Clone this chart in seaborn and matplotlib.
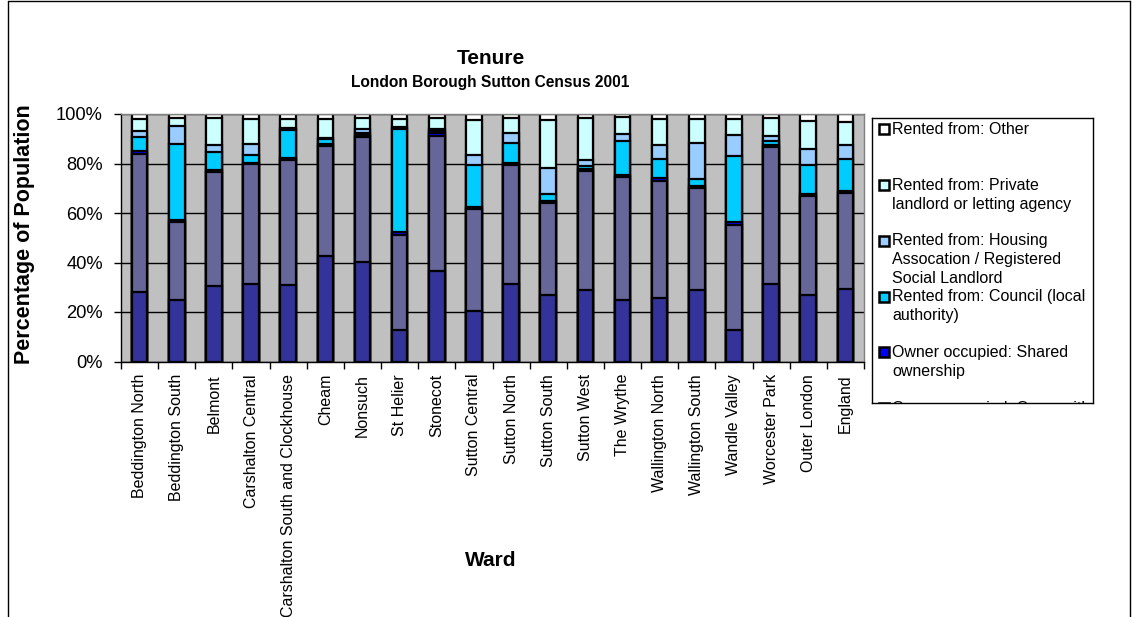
import numpy as np
import pandas as pd
import matplotlib
matplotlib.use("Agg")
import matplotlib.pyplot as plt
from matplotlib.patches import Rectangle
from matplotlib.lines import Line2D
import seaborn as sns

wards = [
    "Beddington North", "Beddington South", "Belmont", "Carshalton Central",
    "Carshalton South and Clockhouse", "Cheam", "Nonsuch", "St Helier",
    "Stonecot", "Sutton Central", "Sutton North", "Sutton South",
    "Sutton West", "The Wrythe", "Wallington North", "Wallington South",
    "Wandle Valley", "Worcester Park", "Outer London", "England",
]

# Tenure shares (% of households) per ward
owns_outright = [27.9, 24.7, 30.7, 31.4, 31.0, 42.6, 40.2, 12.9, 36.7, 20.6,
                 31.5, 27.0, 29.0, 24.8, 25.6, 28.8, 12.8, 31.5, 27.0, 29.2]
owns_mortgage = [56.1, 31.5, 45.8, 48.2, 50.3, 44.6, 50.4, 38.3, 54.5, 41.0,
                 48.0, 37.2, 48.1, 49.6, 47.4, 41.3, 42.5, 55.0, 40.0, 38.9]
shared_ownership = [0.9, 1.0, 1.0, 0.8, 1.0, 0.6, 0.8, 1.0, 1.0, 0.8,
                    0.8, 0.6, 0.8, 0.8, 1.0, 0.8, 1.2, 0.8, 0.8, 0.8]
council = [5.9, 30.8, 7.1, 3.2, 11.2, 2.2, 1.0, 41.7, 1.0, 16.8,
           8.1, 3.0, 1.0, 14.0, 7.9, 2.8, 26.4, 1.9, 11.7, 12.9]
housing_assoc = [2.5, 7.0, 3.0, 4.4, 0.8, 0.5, 1.5, 0.8, 0.8, 4.4,
                 3.9, 10.4, 2.6, 2.8, 5.4, 14.6, 8.5, 1.8, 6.5, 5.8]
private_rented = [4.8, 3.4, 10.8, 10.1, 3.7, 7.6, 4.5, 3.3, 4.4, 14.1,
                  6.1, 19.4, 16.9, 6.7, 10.8, 9.8, 6.7, 7.4, 11.3, 9.0]
other_rented = [1.9, 1.6, 1.6, 1.9, 2.0, 1.9, 1.6, 2.0, 1.6, 2.3,
                1.6, 2.4, 1.6, 1.3, 1.9, 1.9, 1.9, 1.6, 2.7, 3.4]

series_names = [
    "Owner occupied: Owns outright",
    "Owner occupied: Owns with a mortgage or loan",
    "Owner occupied: Shared ownership",
    "Rented from: Council (local authority)",
    "Rented from: Housing Assocation / Registered Social Landlord",
    "Rented from: Private landlord or letting agency",
    "Rented from: Other",
]
series_values = [owns_outright, owns_mortgage, shared_ownership, council,
                 housing_assoc, private_rented, other_rented]
series_colors = ["#333399", "#666699", "#0000FF", "#00CCFF",
                 "#99CCFF", "#CCFFFF", "#FFFFFF"]

sns.set_theme(style="white")
plt.rcParams["font.family"] = ["Liberation Sans", "DejaVu Sans"]
plt.rcParams["text.color"] = "black"
plt.rcParams["axes.labelcolor"] = "black"
plt.rcParams["xtick.color"] = "black"
plt.rcParams["ytick.color"] = "black"

W, H = 1132, 617
fig = plt.figure(figsize=(W / 100, H / 100), dpi=100)
fig.patch.set_facecolor("white")


def fx(px):
    return px / W


def fy(py):
    return 1 - py / H


ax = fig.add_axes([fx(121), fy(361.5), fx(864 - 121), (361.5 - 114) / H])
ax.set_facecolor("#C0C0C0")

# 100% stacked: normalise each ward, then draw cumulative bars from the top layer down
df = pd.DataFrame(dict(zip(series_names, series_values)), index=wards)
df = df.div(df.sum(axis=1), axis=0) * 100
cum = df.cumsum(axis=1)

for name, color in reversed(list(zip(series_names, series_colors))):
    layer = pd.DataFrame({"ward": wards, "value": cum[name].values})
    sns.barplot(data=layer, x="ward", y="value", order=wards, color=color,
                saturation=1, width=0.42, edgecolor="black", linewidth=1.6,
                errorbar=None, ax=ax)

ax.set_xlim(-0.5, len(wards) - 0.5)
ax.set_ylim(0, 100)
ax.set_axisbelow(True)
ax.yaxis.grid(True, color="black", linewidth=1.0)
ax.xaxis.grid(False)

ax.set_yticks(np.arange(0, 101, 20))
ax.set_yticklabels([f"{v}%" for v in range(0, 101, 20)], fontsize=13.2,
                   color="black")
ax.tick_params(axis="y", which="major", left=True, length=5, width=1,
               color="black", labelcolor="black", pad=8)

ax.set_xticks(np.arange(len(wards)))
ax.set_xticklabels(wards, rotation=90, fontsize=11.5, va="top", color="black")
ax.set_xticks(np.arange(-0.5, len(wards)), minor=True)
ax.tick_params(axis="x", which="major", length=0, pad=9, labelcolor="black")
ax.tick_params(axis="x", which="minor", bottom=True, length=5, width=1,
               color="black")

ax.set_xlabel("")
ax.set_ylabel("")
for side in ["left", "bottom"]:
    ax.spines[side].set_color("black")
    ax.spines[side].set_linewidth(1.0)
for side in ["top", "right"]:
    ax.spines[side].set_color("#808080")
    ax.spines[side].set_linewidth(1.0)

fig.text(fx(491), fy(58), "Tenure", ha="center", va="center",
         fontsize=15, fontweight="bold", color="black")
fig.text(fx(490), fy(83), "London Borough Sutton Census 2001", ha="center",
         va="center", fontsize=11.2, fontweight="bold", color="black")
fig.text(fx(25), fy(234), "Percentage of Population", rotation=90,
         ha="center", va="center", fontsize=15.5, fontweight="bold",
         color="black")
fig.text(fx(491), fy(561), "Ward", ha="center", va="center",
         fontsize=15, fontweight="bold", color="black")

# Legend panel (fixed box, entries clipped at the lower edge)
lx0, lx1, ly0, ly1 = 872, 1093, 117.7, 402.7
lax = fig.add_axes([fx(lx0), fy(ly1), fx(lx1 - lx0), (ly1 - ly0) / H])
lax.set_xlim(0, lx1 - lx0)
lax.set_ylim(ly1 - ly0, 0)
lax.set_xticks([])
lax.set_yticks([])
lax.set_facecolor("white")
for sp in lax.spines.values():
    sp.set_color("black")
    sp.set_linewidth(1.0)

legend_lines = [
    ["Rented from: Other"],
    ["Rented from: Private", "landlord or letting agency"],
    ["Rented from: Housing", "Assocation / Registered", "Social Landlord"],
    ["Rented from: Council (local", "authority)"],
    ["Owner occupied: Shared", "ownership"],
    ["Owner occupied: Owns with", "a mortgage or loan"],
    ["Owner occupied: Owns", "outright"],
]
legend_colors = list(reversed(series_colors))
entry_y0 = 11.5
entry_step = 55.8
line_step = 19.0
for i, (lines, color) in enumerate(zip(legend_lines, legend_colors)):
    yc = entry_y0 + i * entry_step
    lax.add_patch(Rectangle((7, yc - 5), 10, 10, facecolor=color,
                            edgecolor="black", linewidth=1.8, clip_on=True))
    for j, txt in enumerate(lines):
        lax.text(20.5, yc + j * line_step, txt, ha="left", va="center",
                 fontsize=11.5, color="black", clip_on=True)

# Outer chart frame
frame_kw = dict(color="black", linewidth=1.0, transform=fig.transFigure)
fig.add_artist(Line2D([fx(8), fx(8)], [0, fy(1)], **frame_kw))
fig.add_artist(Line2D([fx(8), fx(1130)], [fy(1), fy(1)], **frame_kw))
fig.add_artist(Line2D([fx(1130), fx(1130)], [0, fy(1)], **frame_kw))

fig.savefig("out.png", dpi=100)
